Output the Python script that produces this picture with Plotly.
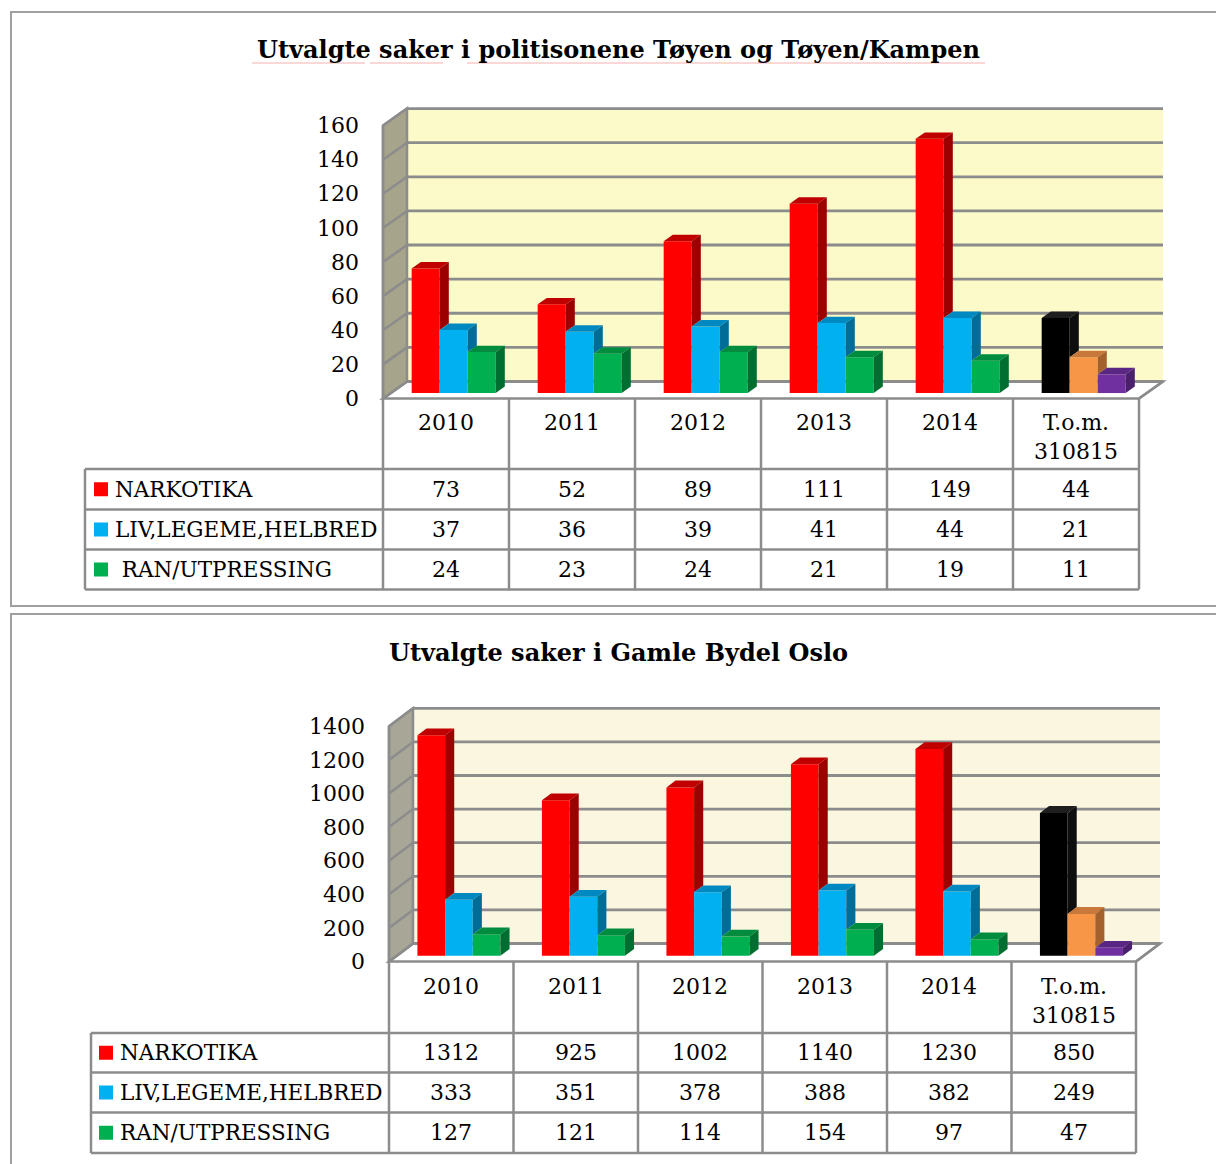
import plotly.graph_objects as go

W, H = 1216, 1164
FONT = "DejaVu Serif"
GRID = "#8c8c8c"

# ---- data -------------------------------------------------------------
categories = ["2010", "2011", "2012", "2013", "2014", "T.o.m.<br>310815"]
series_labels = ["NARKOTIKA", "LIV,LEGEME,HELBRED", "RAN/UTPRESSING"]

toyen_narkotika = [73, 52, 89, 111, 149, 44]
toyen_liv = [37, 36, 39, 41, 44, 21]
toyen_ran = [24, 23, 24, 21, 19, 11]

gamle_narkotika = [1312, 925, 1002, 1140, 1230, 850]
gamle_liv = [333, 351, 378, 388, 382, 249]
gamle_ran = [127, 121, 114, 154, 97, 47]

toyen_ticks = [0, 20, 40, 60, 80, 100, 120, 140, 160]
gamle_ticks = [0, 200, 400, 600, 800, 1000, 1200, 1400]

# ---- styling ----------------------------------------------------------
series_colors = ["#ff0000", "#00b0f0", "#00b050"]
last_colors = ["#000000", "#f79646", "#7030a0"]
shade = {  # front colour -> (top face, side face)
    "#ff0000": ("#c00000", "#9c0000"),
    "#00b0f0": ("#0089c0", "#006d99"),
    "#00b050": ("#008c3f", "#006e31"),
    "#000000": ("#1e1e1e", "#0e0e0e"),
    "#f79646": ("#c8783a", "#a4612e"),
    "#7030a0": ("#5a2683", "#4a1f6c"),
}

panels = [
    dict(xa="x", ya="y", title="Utvalgte saker i politisonene Tøyen og Tøyen/Kampen",
         title_y=50, series=[toyen_narkotika, toyen_liv, toyen_ran], ticks=toyen_ticks,
         cx0=446.0, cw=126.0, y0=398.5, s=1.706, dom=(0, 610), depth=(24, 17),
         tab_left=85, rows=[469, 509.5, 549.5, 589.5], key_x=94,
         labels=["NARKOTIKA", "LIV,LEGEME,HELBRED", "\u00a0RAN/UTPRESSING"],
         box=(12, 606), wall="#fcfac8", lwall="#a6a48a", squiggle=True),
    dict(xa="x2", ya="y2", title="Utvalgte saker i Gamle Bydel Oslo",
         title_y=652, series=[gamle_narkotika, gamle_liv, gamle_ran], ticks=gamle_ticks,
         cx0=451.25, cw=124.5, y0=961.5, s=0.168, dom=(610, 1164), depth=(24, 18),
         tab_left=91, rows=[1033, 1072.5, 1112.5, 1153], key_x=99,
         labels=series_labels,
         box=(614, 1200), wall="#faf6df", lwall="#a8a696", squiggle=False),
]

D_FRONT, D_BACK = 0.32, 0.70   # depth fractions of the bar slab
BAR_W = 2.0 / 9.0              # three bars fill two thirds of a category

fig = go.Figure()
shapes, annotations = [], []
layout_axes = {}


def line(xref, yref, x0, y0, x1, y1, color=GRID, width=2.5, layer="above"):
    return dict(type="line", xref=xref, yref=yref, x0=x0, y0=y0, x1=x1, y1=y1,
                line=dict(color=color, width=width), layer=layer)


for p in panels:
    xa, ya = p["xa"], p["ya"]
    cx0, cw, y0, s = p["cx0"], p["cw"], p["y0"], p["s"]

    def X(px, cx0=cx0, cw=cw):
        return (px - cx0) / cw

    def Y(py, y0=y0, s=s):
        return (y0 - py) / s

    def PY(py):
        return 1 - py / H

    DX, DY = p["depth"][0] / cw, p["depth"][1] / s
    ticks = p["ticks"]
    ymax = ticks[-1]
    n = len(categories)
    L, R = -0.5, n - 0.5

    layout_axes["xaxis" + xa[1:]] = dict(
        domain=[0, 1], range=[X(0), X(W)], visible=False, fixedrange=True,
        anchor=ya)
    layout_axes["yaxis" + ya[1:]] = dict(
        domain=[1 - p["dom"][1] / H, 1 - p["dom"][0] / H],
        range=[Y(p["dom"][1]), Y(p["dom"][0])],
        tickvals=ticks, ticktext=[str(t) for t in ticks], ticks="",
        showgrid=False, zeroline=False, showline=False,
        anchor="free", position=(cx0 + L * cw) / W, ticklabelstandoff=24,
        tickfont=dict(family=FONT, size=22, color="#000"), fixedrange=True)

    # back wall, floor and side wall
    shapes.append(dict(type="rect", xref=xa, yref=ya, x0=L + DX, x1=R + DX, y0=DY,
                       y1=ymax + DY, fillcolor=p["wall"], line=dict(width=0), layer="below"))
    shapes.append(dict(type="path", xref=xa, yref=ya,
                       path=f"M{L},0 L{R},0 L{R + DX},{DY} L{L + DX},{DY} Z",
                       fillcolor="white", line=dict(color=GRID, width=2.5), layer="below"))
    shapes.append(dict(type="path", xref=xa, yref=ya,
                       path=f"M{L},0 L{L},{ymax} L{L + DX},{ymax + DY} L{L + DX},{DY} Z",
                       fillcolor=p["lwall"], line=dict(color=GRID, width=2.5), layer="below"))
    for t in ticks:
        shapes.append(line(xa, ya, L + DX, t + DY, R + DX, t + DY, width=2.8, layer="below"))
        shapes.append(line(xa, ya, L, t, L + DX, t + DY, layer="below"))

    # 3-D bars: front faces as bars, tops and sides as filled polygons
    polys = {}

    def add_poly(color, pts):
        xs, ys = polys.setdefault(color, ([], []))
        xs.extend([q[0] for q in pts] + [pts[0][0], None])
        ys.extend([q[1] for q in pts] + [pts[0][1], None])

    base = D_FRONT * DY
    ddx, ddy = (D_BACK - D_FRONT) * DX, (D_BACK - D_FRONT) * DY
    for j, vals in enumerate(p["series"]):
        colors = [series_colors[j]] * (n - 1) + [last_colors[j]]
        xc = [i + (j - 1) * BAR_W + D_FRONT * DX for i in range(n)]
        fig.add_trace(go.Bar(x=xc, y=vals, base=base, width=BAR_W, xaxis=xa, yaxis=ya,
                             marker=dict(color=colors, line=dict(width=0)),
                             hoverinfo="skip", showlegend=False))
        for i in range(n):
            v = vals[i]
            nxt = p["series"][j + 1][i] if j < 2 else 0
            x0 = xc[i] - BAR_W / 2
            x1 = x0 + BAR_W
            t = base + v
            top_c, side_c = shade[colors[i]]
            if nxt > v:
                add_poly(top_c, [(x0, t), (x1, t), (x1, t + ddy), (x0 + ddx, t + ddy)])
            else:
                add_poly(top_c, [(x0, t), (x1, t), (x1 + ddx, t + ddy), (x0 + ddx, t + ddy)])
            low = base + nxt
            if low < t:
                add_poly(side_c, [(x1, low), (x1, t), (x1 + ddx, t + ddy), (x1 + ddx, low + ddy)])
    for color, (xs, ys) in polys.items():
        fig.add_trace(go.Scatter(x=xs, y=ys, xaxis=xa, yaxis=ya, mode="lines",
                                 fill="toself", fillcolor=color, line=dict(width=0),
                                 hoverinfo="skip", showlegend=False))

    # data table under the chart
    rows = p["rows"]
    bottom = rows[-1]
    tl = X(p["tab_left"])
    for k in range(n + 1):
        x = L + k
        y_top = ymax if k == 0 else 0
        shapes.append(dict(type="line", xref=xa, yref="paper", x0=x, x1=x,
                           y0=PY(y0 - y_top * s), y1=PY(bottom),
                           line=dict(color=GRID, width=2.5)))
    shapes.append(line(xa, "paper", R, PY(y0), R + DX, PY(y0 - DY * s)))
    shapes.append(dict(type="line", xref=xa, yref="paper", x0=tl, x1=tl,
                       y0=PY(rows[0]), y1=PY(bottom), line=dict(color=GRID, width=2.5)))
    for r in rows:
        shapes.append(line(xa, "paper", tl, PY(r), R, PY(r)))

    for i, c in enumerate(categories):
        annotations.append(dict(xref=xa, yref="paper", x=i, y=PY(y0 + 10), text=c,
                                showarrow=False, xanchor="center", yanchor="top",
                                font=dict(family=FONT, size=22, color="#000")))
    for j, vals in enumerate(p["series"]):
        yc = (rows[j] + rows[j + 1]) / 2
        for i, v in enumerate(vals):
            annotations.append(dict(xref=xa, yref="paper", x=i, y=PY(yc), text=str(v),
                                    showarrow=False, xanchor="center", yanchor="middle",
                                    font=dict(family=FONT, size=22, color="#000")))
        kx = p["key_x"]
        shapes.append(dict(type="rect", xref="paper", yref="paper",
                           x0=kx / W, x1=(kx + 14) / W, y0=PY(yc + 7), y1=PY(yc - 7),
                           fillcolor=series_colors[j], line=dict(width=0)))
        annotations.append(dict(xref="paper", yref="paper", x=(kx + 19) / W, y=PY(yc),
                                text=p["labels"][j], showarrow=False, xanchor="left",
                                yanchor="middle",
                                font=dict(family=FONT, size=21.5, color="#000")))

    # panel frame and title
    shapes.append(dict(type="rect", xref="paper", yref="paper", x0=11 / W, x1=1.05,
                       y0=PY(p["box"][1]), y1=PY(p["box"][0]),
                       line=dict(color="#a0a0a0", width=2), fillcolor="rgba(0,0,0,0)"))
    annotations.append(dict(xref="paper", yref="paper", x=618 / W, y=PY(p["title_y"]),
                            text="<b>" + p["title"] + "</b>", showarrow=False,
                            xanchor="center", yanchor="middle",
                            font=dict(family=FONT, size=24, color="#000")))
    if p["squiggle"]:
        for a, b in [(252, 365), (370, 443), (467, 985)]:
            shapes.append(line("paper", "paper", a / W, PY(63), b / W, PY(63),
                               color="rgba(235,80,80,0.45)", width=1.2))

fig.update_layout(
    width=W, height=H, margin=dict(l=0, r=0, t=0, b=0),
    paper_bgcolor="white", plot_bgcolor="white", showlegend=False,
    barmode="overlay", shapes=shapes, annotations=annotations, **layout_axes)

fig.write_html("out.html")
